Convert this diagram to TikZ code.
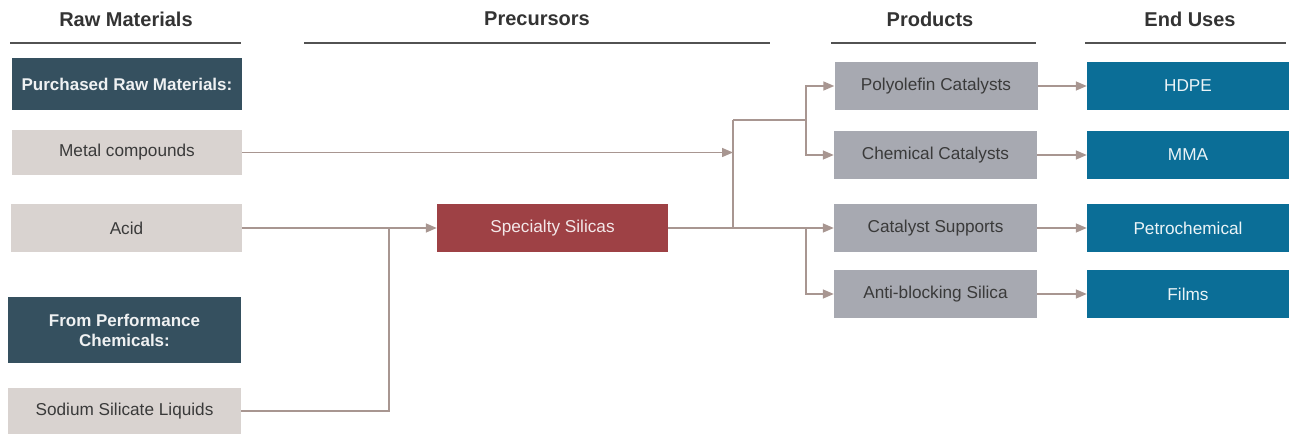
\documentclass[tikz,border=0pt]{standalone}
\usepackage{fontspec}
\setmainfont{Liberation Sans}
\usetikzlibrary{arrows.meta}
\definecolor{slate}{HTML}{35505F}
\definecolor{lightb}{HTML}{D9D3D0}
\definecolor{redb}{HTML}{9E4145}
\definecolor{greyb}{HTML}{A7A9B1}
\definecolor{blueb}{HTML}{0B6E97}
\definecolor{conn}{HTML}{A89691}
\definecolor{txt}{HTML}{3A3A3A}
\definecolor{hdr}{HTML}{333333}
\tikzset{
  basebox/.style={rectangle, inner sep=0pt, minimum width=230pt, minimum height=47pt, align=center, font=\fontsize{17.2}{20}\selectfont},
  slatebox/.style={basebox, fill=slate, text=white!92!slate, font=\fontsize{17}{20}\selectfont\bfseries},
  lightbox/.style={basebox, fill=lightb, text=txt},
  redbox/.style={basebox, fill=redb, text=white!88!redb},
  greybox/.style={basebox, fill=greyb, text=txt, minimum width=203pt},
  bluebox/.style={basebox, fill=blueb, text=white!92!blueb, minimum width=202pt},
  header/.style={font=\fontsize{20}{24}\selectfont\bfseries, text=hdr, inner sep=0pt},
  rule/.style={draw=hdr!85!white, line width=1.2pt},
  conline/.style={draw=conn, line width=1.5pt},
  arr/.style={conline, -{Triangle[length=11pt,width=9pt]}},
}
\begin{document}
\begin{tikzpicture}[x=1pt,y=-1pt]
\useasboundingbox (0,0) rectangle (1291,435);
% headers
\node[header] (hraw) at (126,19) {Raw Materials};
\node[header] (hpre) at (537,19) {Precursors};
\node[header] (hpro) at (930,19) {Products};
\node[header] (hend) at (1190,19) {End Uses};
\coordinate (r1a) at (10,43); \coordinate (r1b) at (241,43);
\coordinate (r2a) at (304,43); \coordinate (r2b) at (770,43);
\coordinate (r3a) at (831,43); \coordinate (r3b) at (1036,43);
\coordinate (r4a) at (1085,43); \coordinate (r4b) at (1286,43);
\draw[rule] (r1a) -- (r1b);
\draw[rule] (r2a) -- (r2b);
\draw[rule] (r3a) -- (r3b);
\draw[rule] (r4a) -- (r4b);
% raw materials
\node[slatebox, minimum height=52pt] (purch) at (127,84) {Purchased Raw Materials:};
\node[lightbox, minimum height=45pt] (metal) at (127,152.5) {Metal compounds};
\node[lightbox, minimum width=231pt, minimum height=48pt] (acid) at (126.5,228) {Acid};
\node[slatebox, minimum width=233pt, minimum height=66pt] (perf) at (124.5,330) {From Performance\\Chemicals:};
\node[lightbox, minimum width=233pt, minimum height=46pt] (sod) at (124.5,411) {Sodium Silicate Liquids};
% precursor
\node[redbox, minimum width=231pt, minimum height=48pt] (ss) at (552.5,228) {Specialty Silicas};
% products
\node[greybox, minimum height=48pt] (poly) at (936,86) {Polyolefin Catalysts};
\node[greybox, minimum height=48pt] (chem) at (935.5,155) {Chemical Catalysts};
\node[greybox, minimum height=48pt] (sup) at (935.5,228) {Catalyst Supports};
\node[greybox, minimum height=48pt] (anti) at (935.5,294) {Anti-blocking Silica};
% end uses
\node[bluebox, minimum height=48pt] (hdpe) at (1188,86) {HDPE};
\node[bluebox, minimum height=48pt] (mma) at (1188,155) {MMA};
\node[bluebox, minimum height=48pt] (petro) at (1188,228) {Petrochemical};
\node[bluebox, minimum height=48pt] (films) at (1188,294) {Films};
% junctions
\coordinate (j1) at (733,120);
\coordinate (j2) at (806,120);
\coordinate (j4) at (389,228);
% connectors
\draw[arr] (acid.east) -- (ss.west);
\draw[conline] (sod.east) -| (j4);
\draw[arr] (metal.east) -- (metal.east -| j1);
\draw[conline] (j1) -- (j1 |- ss.east);
\draw[conline] (j1) -- (j2);
\draw[arr] (j2) |- (poly.west);
\draw[arr] (j2) |- (chem.west);
\draw[arr] (ss.east) -- (sup.west);
\draw[arr] (j2 |- sup.west) |- (anti.west);
\draw[arr] (poly.east) -- (hdpe.west);
\draw[arr] (chem.east) -- (mma.west);
\draw[arr] (sup.east) -- (petro.west);
\draw[arr] (anti.east) -- (films.west);
\end{tikzpicture}
\end{document}
